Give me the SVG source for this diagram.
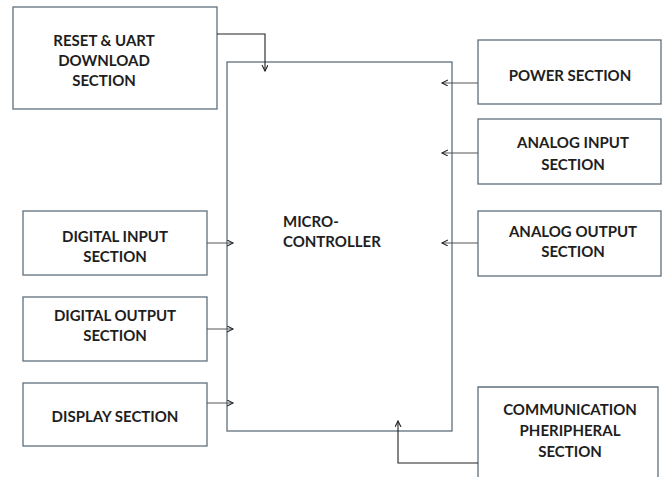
<svg xmlns="http://www.w3.org/2000/svg" width="665" height="477" viewBox="0 0 665 477">
<style>
.box{fill:#fff;stroke:#5f6f7c;stroke-width:1.3}
.t{font-family:Lato,"Liberation Sans",sans-serif;font-weight:bold;font-size:15px;fill:#1e1e1e;text-anchor:middle}
.c{fill:none;stroke:#222;stroke-width:1.1}
.g{fill:none;stroke:#555;stroke-width:1}
</style>
<defs>
<marker id="ah" markerWidth="8" markerHeight="8" refX="6" refY="3" orient="auto" markerUnits="userSpaceOnUse">
<path d="M0,0 L6,3 L0,6" fill="none" stroke="#222" stroke-width="1.1"/>
</marker>
</defs>
<rect width="665" height="477" fill="#fff"/>
<g id="micro"><rect class="box" x="227" y="62" width="225" height="369"/>
<text class="t" style="text-anchor:start" x="283" y="227">MICRO-</text>
<text class="t" style="text-anchor:start" x="283" y="247">CONTROLLER</text></g>
<g id="reset"><rect class="box" x="13" y="7" width="204" height="102"/>
<text class="t" x="104" y="46">RESET &amp; UART</text>
<text class="t" x="104" y="66">DOWNLOAD</text>
<text class="t" x="104" y="86">SECTION</text></g>
<g id="power"><rect class="box" x="478" y="40" width="183" height="64"/>
<text class="t" x="570" y="81">POWER SECTION</text></g>
<g id="ain"><rect class="box" x="478" y="119" width="183" height="65"/>
<text class="t" x="573" y="148">ANALOG INPUT</text>
<text class="t" x="573" y="170">SECTION</text></g>
<g id="aout"><rect class="box" x="478" y="211" width="183" height="65"/>
<text class="t" x="573" y="237">ANALOG OUTPUT</text>
<text class="t" x="573" y="257">SECTION</text></g>
<g id="din"><rect class="box" x="23" y="211" width="184" height="64"/>
<text class="t" x="115" y="242">DIGITAL INPUT</text>
<text class="t" x="115" y="262">SECTION</text></g>
<g id="dout"><rect class="box" x="23" y="297" width="184" height="64"/>
<text class="t" x="115" y="321">DIGITAL OUTPUT</text>
<text class="t" x="115" y="341">SECTION</text></g>
<g id="disp"><rect class="box" x="23" y="383" width="184" height="63"/>
<text class="t" x="115" y="422">DISPLAY SECTION</text></g>
<g id="comm"><path class="box" d="M478,478 V387 H658 V478"/>
<text class="t" x="570" y="415">COMMUNICATION</text>
<text class="t" x="570" y="436">PHERIPHERAL</text>
<text class="t" x="570" y="457">SECTION</text></g>
<g id="connectors">
<path class="c" d="M217,34 H265 V71" marker-end="url(#ah)"/>
<path class="c" d="M478,463 H398 V421" marker-end="url(#ah)"/>
<path class="g" d="M478,83 H442" marker-end="url(#ah)"/>
<path class="g" d="M478,153 H442" marker-end="url(#ah)"/>
<path class="g" d="M478,243 H442" marker-end="url(#ah)"/>
<path class="g" d="M207,243 H233" marker-end="url(#ah)"/>
<path class="g" d="M207,329 H233" marker-end="url(#ah)"/>
<path class="g" d="M207,403 H233" marker-end="url(#ah)"/>
</g>
</svg>
